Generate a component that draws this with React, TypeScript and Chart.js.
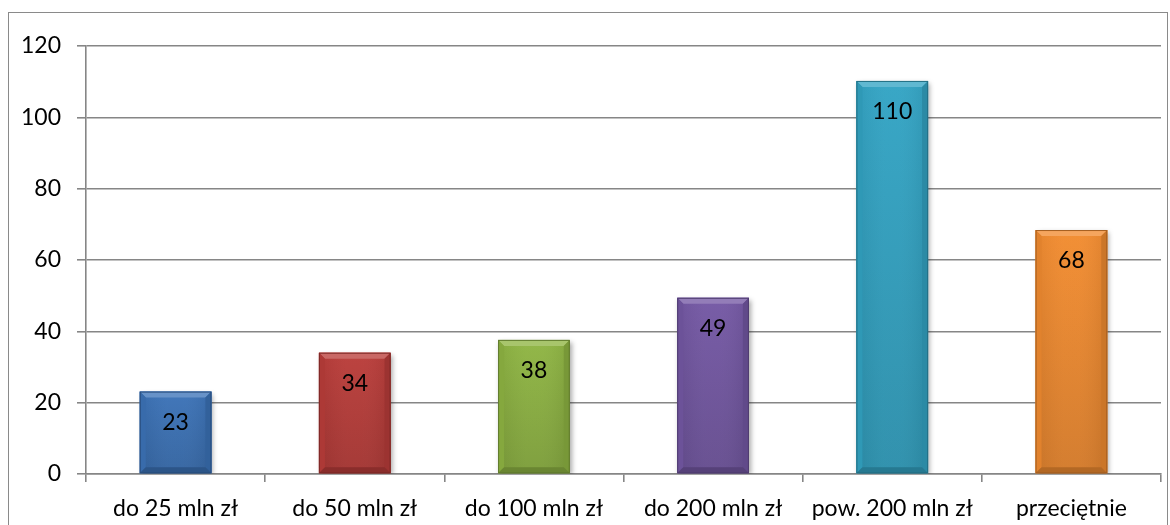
import React, { useEffect, useRef } from 'react';
import { Chart, registerables } from 'chart.js';

Chart.register(...registerables);

const categories = ['do 25 mln zł', 'do 50 mln zł', 'do 100 mln zł', 'do 200 mln zł', 'pow. 200 mln zł', 'przeciętnie'];
const values = [23.1, 34, 37.6, 49.4, 110.2, 68.4];
const barColors = ['#3C73B8', '#BA3D3A', '#8FB543', '#7458A4', '#33A4C4', '#F28C30'];
const yMin = 0;
const yMax = 120;
const yStep = 20;

const FONT = { family: 'Lato', size: 23 };

function shade(hex: string, f: number): string {
  const n = parseInt(hex.slice(1), 16);
  let r = (n >> 16) & 255;
  let g = (n >> 8) & 255;
  let b = n & 255;
  if (f < 1) {
    r *= f; g *= f; b *= f;
  } else {
    const t = f - 1;
    r += (255 - r) * t; g += (255 - g) * t; b += (255 - b) * t;
  }
  return `rgb(${Math.round(r)},${Math.round(g)},${Math.round(b)})`;
}

const bevelPlugin = {
  id: 'bevelBars',
  beforeDatasetsDraw(chart: any) {
    const ctx = chart.ctx;
    ctx.save();
    ctx.shadowColor = 'rgba(0,0,0,0.35)';
    ctx.shadowBlur = 5;
    ctx.shadowOffsetX = 2;
    ctx.shadowOffsetY = 2;
  },
  afterDatasetsDraw(chart: any) {
    const ctx = chart.ctx;
    ctx.restore();
    const meta = chart.getDatasetMeta(0);
    meta.data.forEach((bar: any, i: number) => {
      const { x, y, base, width } = bar.getProps(['x', 'y', 'base', 'width'], true);
      const c = barColors[i % barColors.length];
      const L = x - width / 2;
      const R = x + width / 2;
      const T = y;
      const B = base;
      const b = 6;
      ctx.save();
      const g = ctx.createLinearGradient(0, T, 0, B);
      g.addColorStop(0, shade(c, 1.0));
      g.addColorStop(1, shade(c, 0.87));
      ctx.fillStyle = g;
      ctx.fillRect(L, T, width, B - T);
      const hg = ctx.createLinearGradient(L, 0, R, 0);
      hg.addColorStop(0, 'rgba(0,0,0,0.06)');
      hg.addColorStop(0.4, 'rgba(255,255,255,0.03)');
      hg.addColorStop(0.6, 'rgba(255,255,255,0.03)');
      hg.addColorStop(1, 'rgba(0,0,0,0.08)');
      ctx.fillStyle = hg;
      ctx.fillRect(L, T, width, B - T);
      const poly = (pts: number[][], col: string) => {
        ctx.beginPath();
        ctx.moveTo(pts[0][0], pts[0][1]);
        for (let k = 1; k < pts.length; k++) ctx.lineTo(pts[k][0], pts[k][1]);
        ctx.closePath();
        ctx.fillStyle = col;
        ctx.fill();
      };
      poly([[L, T], [R, T], [R - b, T + b], [L + b, T + b]], shade(c, 1.22));
      poly([[L, T], [L + b, T + b], [L + b, B - b], [L, B]], shade(c, 0.93));
      poly([[R, T], [R, B], [R - b, B - b], [R - b, T + b]], shade(c, 0.84));
      poly([[L, B], [L + b, B - b], [R - b, B - b], [R, B]], shade(c, 0.74));
      ctx.strokeStyle = shade(c, 0.68);
      ctx.lineWidth = 1;
      ctx.strokeRect(L + 0.5, T + 0.5, width - 1, B - T - 1);
      ctx.fillStyle = '#000';
      ctx.font = `${FONT.size}px ${FONT.family}`;
      ctx.textAlign = 'center';
      ctx.textBaseline = 'alphabetic';
      ctx.fillText(String(Math.round(values[i])), x, T + 38);
      ctx.restore();
    });
  },
};

export default function App() {
  const ref = useRef<HTMLCanvasElement | null>(null);
  useEffect(() => {
    if (!ref.current) return;
    const chart = new Chart(ref.current, {
      type: 'bar',
      data: {
        labels: categories,
        datasets: [
          {
            data: values,
            backgroundColor: barColors,
            borderWidth: 0,
            categoryPercentage: 1,
            barPercentage: 0.4,
          },
        ],
      },
      options: {
        animation: false,
        responsive: false,
        maintainAspectRatio: false,
        devicePixelRatio: 1,
        layout: { padding: { top: 46, right: 9, left: 0, bottom: 0 } },
        plugins: { legend: { display: false }, tooltip: { enabled: false } },
        scales: {
          x: {
            grid: { drawOnChartArea: false, drawTicks: true, tickLength: 8, color: '#868686', lineWidth: 1.6 },
            border: { display: true, color: '#868686', width: 1.6 },
            ticks: { font: FONT, color: '#000', padding: 13, maxRotation: 0, autoSkip: false },
            afterFit: (s: any) => { s.height = 51; },
          },
          y: {
            min: yMin,
            max: yMax,
            ticks: { stepSize: yStep, font: FONT, color: '#000', padding: 16 },
            grid: { color: '#868686', lineWidth: 1.6, tickLength: 9 },
            border: { display: true, color: '#868686', width: 1.6 },
            afterFit: (s: any) => { s.width = 86; },
          },
        },
      },
      plugins: [bevelPlugin],
    });
    return () => chart.destroy();
  }, []);
  return (
    <div style={{ position: 'fixed', left: 0, top: 0, width: 1170, height: 525, overflow: 'hidden', background: '#fff' }}>
      <div style={{ position: 'absolute', left: 8, top: 12, width: 1160, height: 600, border: '1.5px solid #8a8a8a', boxSizing: 'border-box' }} />
      <canvas ref={ref} width={1170} height={525} style={{ position: 'absolute', left: 0, top: 0, width: 1170, height: 525 }} />
    </div>
  );
}
